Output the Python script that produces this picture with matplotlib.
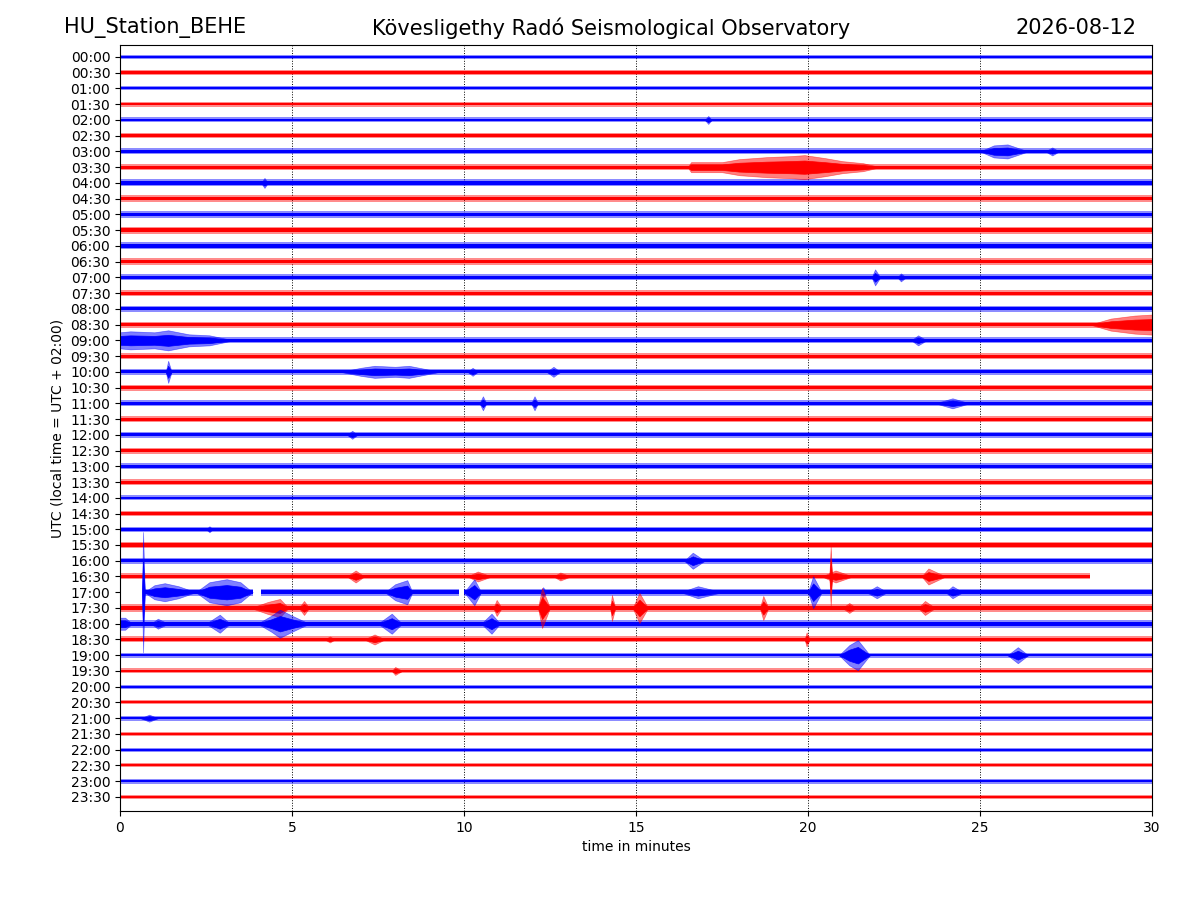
import matplotlib.pyplot as plt

# half-hour rows, 00:00 at the top
rows = [f"{h:02d}:{m:02d}" for h in range(24) for m in (0, 30)]

# background noise half-amplitude for each row (same units as events)
noise = [2, 2.5, 2, 2.5, 2.5, 2.5, 3, 3, 3.5, 3.5, 3.5, 3.5,
         3.5, 3.5, 3, 3, 3, 3, 3, 3, 3, 3, 3, 3,
         3, 3, 3, 3, 2.5, 2.5, 2.5, 3, 3, 3, 3.5, 4,
         4, 3, 2.5, 2.5, 2, 2, 2.5, 2, 2, 2, 2.5, 2]

# rows with gaps / partial recording: row -> list of (start, end) minutes
segments = {
    33: [(0, 28.2)],
    34: [(0.67, 3.87), (4.1, 9.86), (10.0, 30)],
}

# events: row, envelope times (min), envelope amplitude
ev_row = [4, 6, 6, 7, 8, 14, 14, 17, 18, 18,
          20, 20, 20, 20, 22, 22, 22, 24, 30, 32,
          33, 33, 33, 33, 33, 33,
          34, 34, 34, 34, 34, 34, 34, 34, 34, 34,
          35, 35, 35, 35, 35, 35, 35, 35, 35,
          36, 36, 36, 36, 36, 36,
          37, 37, 37, 38, 38, 39, 42]
ev_t = [
    [17.0, 17.1, 17.2],
    [25.0, 25.4, 25.8, 26.4],
    [26.9, 27.1, 27.3],
    [16.5, 16.6, 17.5, 18.0, 18.8, 19.5, 19.9, 20.5, 21.0, 21.6, 22.1],
    [4.1, 4.2, 4.3],
    [21.85, 21.95, 22.1],
    [22.6, 22.7, 22.85],
    [28.2, 28.8, 29.5, 30.0],
    [0.0, 0.3, 1.0, 1.4, 2.0, 2.6, 3.3],
    [23.0, 23.2, 23.45],
    [1.33, 1.4, 1.5],
    [6.4, 7.0, 7.4, 8.0, 8.4, 9.3],
    [10.1, 10.25, 10.4],
    [12.4, 12.6, 12.8],
    [10.45, 10.55, 10.65],
    [11.95, 12.05, 12.15],
    [23.7, 24.2, 24.7],
    [6.6, 6.75, 6.9],
    [2.5, 2.6, 2.7],
    [16.4, 16.65, 17.0],
    [6.6, 6.85, 7.1],
    [10.1, 10.4, 10.8],
    [12.6, 12.8, 13.1],
    [20.4, 20.8, 21.3],
    [20.62, 20.66, 20.7],
    [23.3, 23.5, 24.0],
    [0.64, 0.67, 0.72],
    [0.7, 1.0, 1.3, 1.7, 2.2],
    [2.2, 2.6, 3.1, 3.5, 3.85],
    [7.7, 8.0, 8.35, 8.5],
    [10.0, 10.3, 10.5],
    [12.2, 12.3, 12.4],
    [16.3, 16.8, 17.5],
    [20.0, 20.15, 20.4],
    [21.7, 22.0, 22.3],
    [24.0, 24.2, 24.5],
    [3.8, 4.3, 4.65, 4.9],
    [5.2, 5.35, 5.5],
    [10.85, 10.95, 11.1],
    [12.15, 12.27, 12.5],
    [14.25, 14.3, 14.4],
    [14.9, 15.1, 15.35],
    [18.6, 18.7, 18.85],
    [21.0, 21.2, 21.4],
    [23.2, 23.4, 23.7],
    [0.0, 0.15, 0.35],
    [0.9, 1.1, 1.4],
    [2.5, 2.9, 3.2],
    [4.0, 4.4, 4.65, 5.0, 5.5],
    [7.5, 7.9, 8.2],
    [10.5, 10.8, 11.05],
    [5.95, 6.1, 6.25],
    [7.1, 7.4, 7.7],
    [19.9, 19.96, 20.05],
    [20.9, 21.2, 21.45, 21.8],
    [25.8, 26.1, 26.4],
    [7.9, 8.0, 8.2],
    [0.6, 0.85, 1.1],
]
ev_amp = [
    [0, 4, 0],
    [0, 6, 7, 0],
    [0, 4, 0],
    [0, 5, 5, 8, 10, 11, 12, 9, 6, 4, 0],
    [0, 5, 0],
    [0, 8, 0],
    [0, 4, 0],
    [0, 6, 9, 10],
    [8, 9, 8, 10, 6, 5, 0],
    [0, 5, 0],
    [0, 11, 0],
    [0, 4, 6, 5, 6, 0],
    [0, 4, 0],
    [0, 5, 0],
    [0, 7, 0],
    [0, 7, 0],
    [0, 5, 0],
    [0, 4, 0],
    [0, 3, 0],
    [0, 8, 0],
    [0, 6, 0],
    [0, 5, 0],
    [0, 4, 0],
    [0, 6, 0],
    [0, 30, 0],
    [0, 8, 0],
    [0, 60, 0],
    [0, 7, 9, 6, 0],
    [0, 10, 13, 10, 0],
    [0, 8, 12, 0],
    [0, 13, 0],
    [0, 5, 0],
    [0, 6, 0],
    [0, 16, 0],
    [0, 6, 0],
    [0, 6, 0],
    [0, 6, 9, 0],
    [0, 7, 0],
    [0, 8, 0],
    [0, 20, 0],
    [0, 13, 0],
    [0, 15, 0],
    [0, 12, 0],
    [0, 5, 0],
    [0, 7, 0],
    [6, 6, 0],
    [0, 5, 0],
    [0, 9, 0],
    [0, 8, 14, 8, 0],
    [0, 10, 0],
    [0, 10, 0],
    [0, 3, 0],
    [0, 5, 0],
    [0, 7, 0],
    [0, 10, 15, 0],
    [0, 8, 0],
    [0, 4, 0],
    [0, 3.5, 0],
]

scale = 1 / 15.7  # amplitude units -> row spacing

fig = plt.figure(figsize=(12, 9), dpi=100)
ax = fig.add_axes([0.1, 0.099, 0.86, 0.851])

for i, lab in enumerate(rows):
    col = "b" if i % 2 == 0 else "r"
    hw = noise[i] * scale
    for t0, t1 in segments.get(i, [(0, 30)]):
        ax.fill_between([t0, t1], i - hw, i + hw, color=col, alpha=0.45, lw=0)
        ax.fill_between([t0, t1], i - hw * 0.5, i + hw * 0.5, color=col, lw=0)

# bursts: pale outer envelope (peaks) with a solid core
for r, t, a in zip(ev_row, ev_t, ev_amp):
    col = "b" if r % 2 == 0 else "r"
    ax.fill_between(t, [r - v * scale for v in a], [r + v * scale for v in a],
                    color=col, alpha=0.5, lw=0.5)
    ax.fill_between(t, [r - v * scale * 0.55 for v in a], [r + v * scale * 0.55 for v in a],
                    color=col, lw=0.5)

for x in range(5, 30, 5):
    ax.axvline(x, color="k", ls=":", lw=0.7, zorder=0)

ax.set_xlim(0, 30)
ax.set_ylim(47.89, -0.76)
ax.set_yticks(range(len(rows)))
ax.set_yticklabels(rows)
ax.set_xticks(range(0, 31, 5))
ax.set_xlabel("time in minutes")
ax.set_ylabel("UTC (local time = UTC + 02:00)")

fig.text(0.053, 0.969, "HU_Station_BEHE", fontsize=15, va="center", ha="left")
fig.text(0.509, 0.969, "Kövesligethy Radó Seismological Observatory", fontsize=15, va="center", ha="center")
fig.text(0.947, 0.969, "2026-08-12", fontsize=15, va="center", ha="right")

fig.savefig("out.png", dpi=100)
